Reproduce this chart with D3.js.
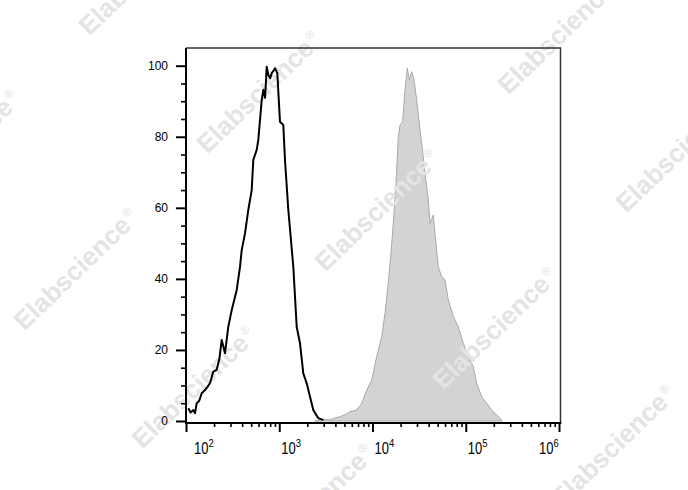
<!DOCTYPE html>
<html>
<head>
<meta charset="utf-8">
<script src="https://cdn.jsdelivr.net/npm/d3@7"></script>
<style>
  html, body { margin: 0; padding: 0; background: #fff; }
  svg { display: block; }
  text { font-family: "Liberation Sans", Arial, sans-serif; }
</style>
</head>
<body>
<svg id="chart" width="688" height="490"></svg>
<script>
// ---- data (fluorescence intensity, % of max) ----
const controlX = [105.8, 112, 119.8, 125, 130.2, 138, 147.4, 159.9, 170, 180.9, 196.2, 213.4, 228, 241.5, 261.9, 284.1,
  309.1, 349.8, 379.5, 395.7, 429.3, 465.7, 506.5, 526.9, 573.2, 596.2, 648.4, 674.5, 705, 733.6, 763.2, 800,
  829.9, 870, 900.4, 953.0, 1018.6, 1105, 1152, 1251, 1415, 1539, 1669, 1811, 1970, 2137, 2318, 2623, 2968];
const controlY = [3.6, 2.4, 3.1, 2.2, 5.0, 5.6, 7.8, 8.7, 9.6, 10.7, 13.9, 14.4, 17.5, 22.8, 19.1, 26.5,
  31.2, 36.9, 43.4, 48.1, 52.8, 59.4, 65.0, 73.5, 76.3, 79.1, 90.3, 93.2, 91.0, 99.7, 97.4, 96.5,
  97.9, 98.6, 99.3, 97.9, 84.2, 83.3, 73.5, 59.4, 43.4, 26.5, 21.9, 13.4, 10.6, 6.8, 3.1, 0.8, 0.3];

const stainedX = [2400, 2735, 3100, 3501, 4000, 4483, 5100, 5738, 6770, 7661, 8667, 9804, 11092, 12553, 13614,
  14767, 15674, 16716, 17865, 18911, 19721, 21082, 22313, 23619, 24813, 26331, 27866, 29785, 32317, 33703,
  36559, 39665, 41366, 44868, 46792, 50758, 55231, 59912, 65000, 73540, 83230, 94130, 106500, 120500,
  131100, 148300, 167800, 189800, 214700, 242900];
const stainedY = [0, 0.3, 0.5, 0.3, 0.9, 1.2, 1.8, 2.6, 3.1, 5.0, 8.7, 11.5, 18.1, 23.7, 30.3,
  38.8, 46.2, 55.6, 66.9, 80.0, 83.3, 84.2, 93.2, 99.3, 96.0, 98.3, 96.0, 90.3, 81.9, 78.2,
  69.7, 62.2, 55.6, 58.0, 52.8, 43.4, 40.6, 39.7, 34.1, 29.4, 26.5, 21.9, 18.1, 15.3,
  10.6, 6.8, 5.0, 3.1, 1.7, 0.3];

const xMajorTicks = [1e2, 1e3, 1e4, 1e5, 1e6];
const xTickExponents = ["2", "3", "4", "5", "6"];
const yMajorTicks = [0, 20, 40, 60, 80, 100];
const yTickLabels = ["0", "20", "40", "60", "80", "100"];
const watermarkText = "Elabscience";

// ---- layout ----
const svg = d3.select("#chart");
const pLeft = 186, pRight = 560.5, pTop = 48, pBottom = 423;
const x = d3.scaleLog().domain([1e2, 1e6]).range([pLeft, 559]);
const y = d3.scaleLinear().domain([0, 100]).range([421, 65.7]);

// stained (filled gray)
const stained = stainedX.map((v, i) => [v, stainedY[i]]);
svg.append("path")
  .datum(stained)
  .attr("fill", "#d3d3d3")
  .attr("stroke", "#a9a9a9")
  .attr("stroke-width", 1)
  .attr("d", d3.area().x(d => x(d[0])).y0(y(0)).y1(d => y(d[1])));

// watermark lattice (decoration, over the fill)
const wm = svg.append("g");
for (let i = -1; i <= 3; i++) {
  for (let j = -1; j <= 1; j++) {
    const cx = 259 + i * 118 + j * 183;
    const cy = 92 + i * 118 - j * 177;
    if (cx < -120 || cx > 800 || cy < -120 || cy > 600) continue;
    const t = wm.append("text")
      .attr("transform", `translate(${cx},${cy}) rotate(-44)`)
      .attr("text-anchor", "middle")
      .attr("dy", "0.35em")
      .attr("font-size", 26)
      .attr("font-weight", "bold")
      .attr("fill", "#e4e4e4");
    t.append("tspan").text(watermarkText);
    t.append("tspan").attr("font-size", 12).attr("font-weight", "normal").attr("dy", "-0.9em").attr("dx", 2).text("®");
  }
}

// control (black line)
const control = controlX.map((v, i) => [v, controlY[i]]);
svg.append("path")
  .datum(control)
  .attr("fill", "none")
  .attr("stroke", "#000")
  .attr("stroke-width", 2)
  .attr("stroke-linejoin", "round")
  .attr("d", d3.line().x(d => x(d[0])).y(d => y(d[1])));

// frame
svg.append("path")
  .attr("d", `M${pLeft},${pTop}H${pRight}V${pBottom}`)
  .attr("fill", "none").attr("stroke", "#333").attr("stroke-width", 1.5);
svg.append("path")
  .attr("d", `M${pLeft},${pTop}V${pBottom}H${pRight + 0.75}`)
  .attr("fill", "none").attr("stroke", "#000").attr("stroke-width", 2);

// y axis
const yMinor = d3.range(0, 101, 5).filter(v => v % 20 !== 0);
const yAxisMajor = svg.append("g").attr("transform", `translate(${pLeft},0)`)
  .call(d3.axisLeft(y).tickValues(yMajorTicks).tickSize(10).tickSizeOuter(0).tickPadding(8)
    .tickFormat((d, i) => yTickLabels[i]));
const yAxisMinor = svg.append("g").attr("transform", `translate(${pLeft},0)`)
  .call(d3.axisLeft(y).tickValues(yMinor).tickSize(5).tickSizeOuter(0).tickFormat(""));

// x axis
const xMinor = [];
for (let e = 2; e < 6; e++) for (let m = 2; m <= 9; m++) xMinor.push(m * Math.pow(10, e));
const xAxisMajor = svg.append("g").attr("transform", `translate(0,${pBottom})`)
  .call(d3.axisBottom(x).tickValues(xMajorTicks).tickSize(9).tickSizeOuter(0).tickFormat(""));
const xAxisMinor = svg.append("g").attr("transform", `translate(0,${pBottom})`)
  .call(d3.axisBottom(x).tickValues(xMinor).tickSize(4).tickSizeOuter(0).tickFormat(""));

[yAxisMajor, yAxisMinor, xAxisMajor, xAxisMinor].forEach(g => {
  g.select(".domain").remove();
  g.selectAll(".tick line").attr("stroke", "#000").attr("stroke-width", 1.6);
});
yAxisMajor.selectAll(".tick line").attr("stroke-width", 2);
xAxisMajor.selectAll(".tick line").attr("stroke-width", 2);
yAxisMajor.selectAll(".tick text")
  .attr("font-size", 12).attr("fill", "#000")
  .attr("font-family", "'Liberation Sans', Arial, sans-serif");

// x tick labels: 10 with superscript exponent (slightly tall glyphs)
const xl = svg.append("g");
xMajorTicks.forEach((v, i) => {
  const cx = Math.min(Math.max(x(v) + 12, 204), 549);
  const t = xl.append("g").attr("transform", `translate(${cx},454) scale(1,1.22)`)
    .append("text")
    .attr("text-anchor", "middle")
    .attr("font-size", 13)
    .attr("fill", "#000");
  t.append("tspan").text("10");
  t.append("tspan").attr("font-size", 9.5).attr("dy", -6).text(xTickExponents[i]);
});
</script>
</body>
</html>
